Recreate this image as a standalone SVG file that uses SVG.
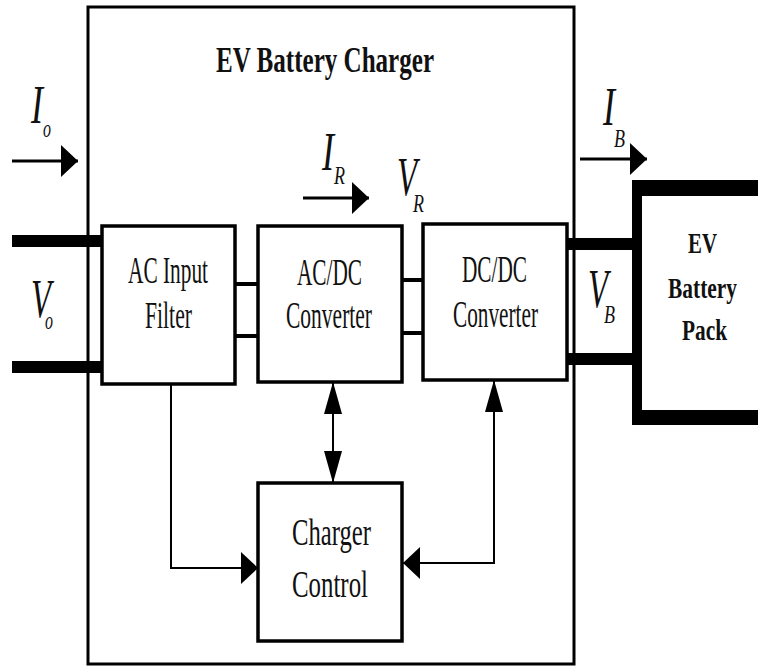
<svg xmlns="http://www.w3.org/2000/svg" width="758" height="666" viewBox="0 0 758 666">
<style>
  .box{fill:#fff;stroke:#000;stroke-width:3.5}
  .outer{fill:none;stroke:#000;stroke-width:3}
  .bus{stroke:#000;stroke-width:12;fill:none}
  .link{stroke:#000;stroke-width:4;fill:none}
  .ctl{stroke:#000;stroke-width:2;fill:none}
  .flow{stroke:#000;stroke-width:3;fill:none}
  text{font-family:"Liberation Serif","Times New Roman",serif;fill:#111}
  .t{font-size:37px}
  .b{font-weight:bold}
  .it{font-style:italic;font-size:54px}
  .sub{font-style:italic;font-size:26px}
</style>
<defs>
  <marker id="arrH" markerUnits="userSpaceOnUse" viewBox="0 0 17 32" markerWidth="17" markerHeight="32" refX="17" refY="16" orient="auto">
    <path d="M0,0 L17,16 L0,32 Z" fill="#000"/>
  </marker>
  <marker id="arrV" markerUnits="userSpaceOnUse" viewBox="0 0 32 18" markerWidth="32" markerHeight="18" refX="32" refY="9" orient="auto-start-reverse">
    <path d="M0,0 L32,9 L0,18 Z" fill="#000"/>
  </marker>
</defs>

<g id="charger">
  <rect class="outer" x="88" y="7" width="486" height="657"/>
  <text class="b" x="216" y="72" font-size="36" textLength="218" lengthAdjust="spacingAndGlyphs">EV Battery Charger</text>
</g>

<g id="connectors">
  <path class="bus" d="M12,241 H102 M12,367 H102"/>
  <path class="bus" d="M567,244 H636 M567,359 H636"/>
  <path class="link" d="M235,284 H258 M235,336 H258 M402,280 H423 M402,333 H423"/>
  <path class="flow" d="M12,161 H78" marker-end="url(#arrH)"/>
  <path class="flow" d="M303,198 H369" marker-end="url(#arrH)"/>
  <path class="flow" d="M580,159 H647" marker-end="url(#arrH)"/>
  <path class="ctl" d="M171,384 V568 H258" marker-end="url(#arrH)"/>
  <path class="ctl" d="M333,382 V483" marker-start="url(#arrV)" marker-end="url(#arrV)"/>
  <path class="ctl" d="M494,380 V563 H403" marker-start="url(#arrV)" marker-end="url(#arrH)"/>
</g>

<g id="labels">
  <text class="it" x="31" y="123" textLength="12" lengthAdjust="spacingAndGlyphs">I</text>
  <text class="sub" x="43" y="137" textLength="8" lengthAdjust="spacingAndGlyphs">o</text>
  <text class="it" x="322" y="170" textLength="12" lengthAdjust="spacingAndGlyphs">I</text>
  <text class="sub" x="334" y="184" textLength="11" lengthAdjust="spacingAndGlyphs">R</text>
  <text class="it" x="397" y="195" textLength="20" lengthAdjust="spacingAndGlyphs">V</text>
  <text class="sub" x="413" y="212" textLength="11" lengthAdjust="spacingAndGlyphs">R</text>
  <text class="it" x="603" y="125" textLength="12" lengthAdjust="spacingAndGlyphs">I</text>
  <text class="sub" x="614" y="147" textLength="11" lengthAdjust="spacingAndGlyphs">B</text>
  <text class="it" x="31" y="317" textLength="20" lengthAdjust="spacingAndGlyphs">V</text>
  <text class="sub" x="45" y="329" textLength="8" lengthAdjust="spacingAndGlyphs">o</text>
  <text class="it" x="588" y="307" textLength="20" lengthAdjust="spacingAndGlyphs">V</text>
  <text class="sub" x="604" y="323" textLength="11" lengthAdjust="spacingAndGlyphs">B</text>
</g>

<g id="filter">
  <rect class="box" x="102" y="226" width="133" height="158"/>
  <text class="t" x="128" y="283" textLength="80" lengthAdjust="spacingAndGlyphs">AC Input</text>
  <text class="t" x="145" y="328" textLength="47" lengthAdjust="spacingAndGlyphs">Filter</text>
</g>

<g id="acdc">
  <rect class="box" x="258" y="226" width="144" height="156"/>
  <text class="t" x="297" y="285" textLength="65" lengthAdjust="spacingAndGlyphs">AC/DC</text>
  <text class="t" x="286" y="328" textLength="86" lengthAdjust="spacingAndGlyphs">Converter</text>
</g>

<g id="dcdc">
  <rect class="box" x="423" y="224" width="144" height="156"/>
  <text class="t" x="462" y="282" textLength="65" lengthAdjust="spacingAndGlyphs">DC/DC</text>
  <text class="t" x="453" y="327" textLength="85" lengthAdjust="spacingAndGlyphs">Converter</text>
</g>

<g id="control">
  <rect class="box" x="258" y="483" width="144" height="158"/>
  <text class="t" x="292" y="545" textLength="79" lengthAdjust="spacingAndGlyphs">Charger</text>
  <text class="t" x="292" y="597" textLength="76" lengthAdjust="spacingAndGlyphs">Control</text>
</g>

<g id="battery">
  <path d="M632,180 H770 V425 H632 Z M642,196 V410 H770 V196 Z" fill="#000" fill-rule="evenodd"/>
  <text class="b" x="688" y="253" font-size="30" textLength="29" lengthAdjust="spacingAndGlyphs">EV</text>
  <text class="b" x="668" y="298" font-size="30" textLength="69" lengthAdjust="spacingAndGlyphs">Battery</text>
  <text class="b" x="682" y="340" font-size="30" textLength="45" lengthAdjust="spacingAndGlyphs">Pack</text>
</g>
</svg>
